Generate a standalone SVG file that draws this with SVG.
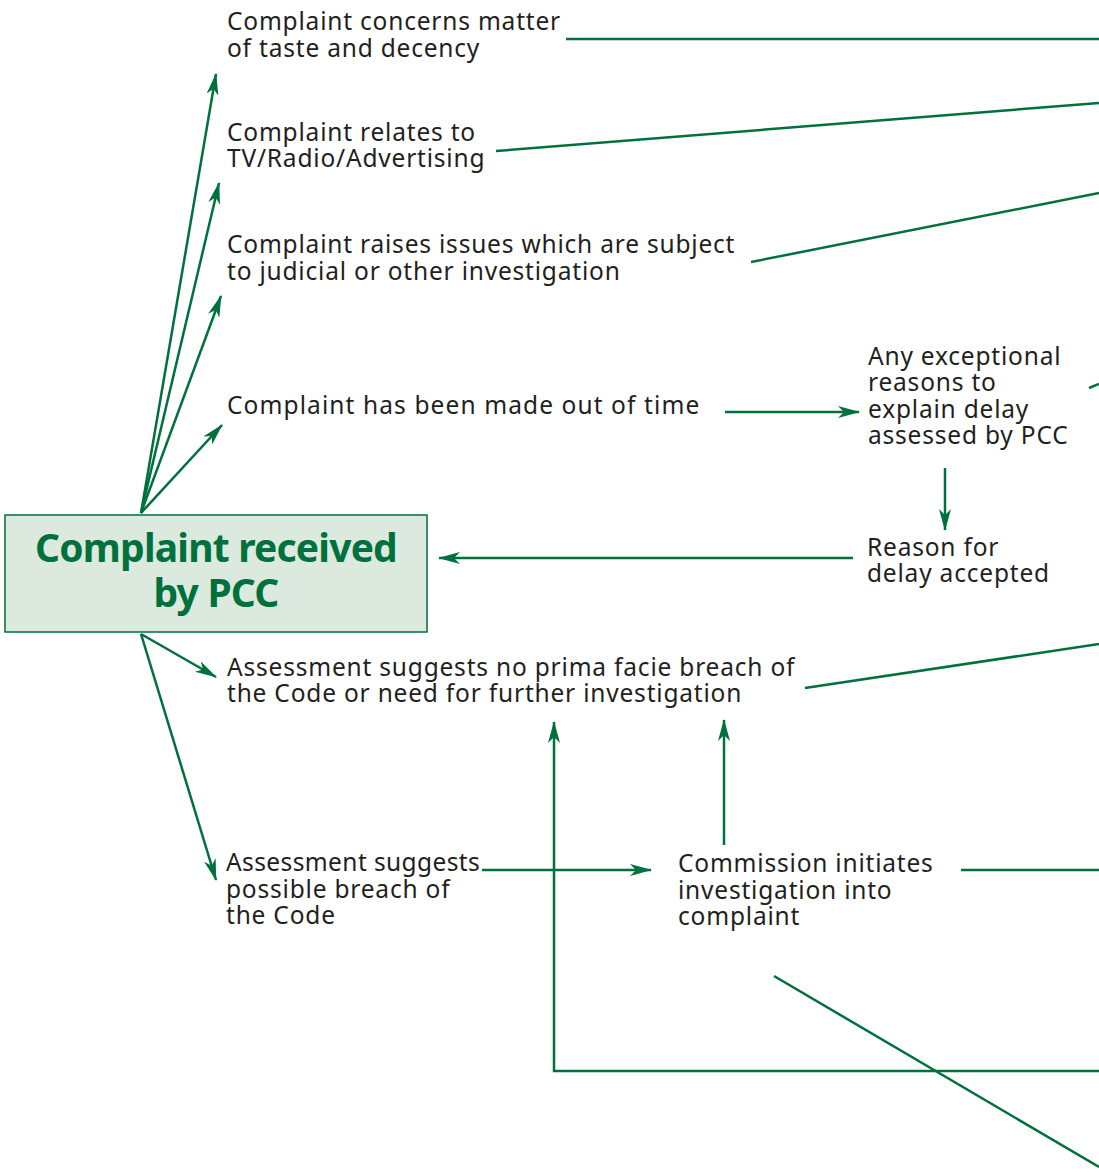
<svg xmlns="http://www.w3.org/2000/svg" width="1099" height="1173" viewBox="0 0 1099 1173">
<defs>
<style>
.t{font-family:"Noto Sans","Open Sans","DejaVu Sans",sans-serif;font-size:24.5px;letter-spacing:0.8px;fill:#231f20}
.title{font-family:"Noto Sans","Open Sans","DejaVu Sans",sans-serif;font-size:39px;letter-spacing:-0.8px;font-weight:bold;fill:#00703c;text-anchor:middle}
.c{stroke:#00703c;stroke-width:2.5;fill:none}
.a{marker-end:url(#ah)}
</style>
<marker id="ah" viewBox="0 0 22 12" refX="21" refY="6" markerWidth="22" markerHeight="12" markerUnits="userSpaceOnUse" orient="auto">
<path d="M0,0 L22,6 L0,12 L6,6 Z" fill="#00703c"/>
</marker>
</defs>
<rect width="1099" height="1173" fill="#ffffff"/>
<g id="connectors">
<line class="c a" x1="141" y1="513" x2="216" y2="74"/>
<line class="c a" x1="141" y1="513" x2="219" y2="183"/>
<line class="c a" x1="141" y1="513" x2="221" y2="296"/>
<line class="c a" x1="141" y1="513" x2="222" y2="425"/>
<line class="c a" x1="141" y1="634" x2="216" y2="677"/>
<line class="c a" x1="141" y1="634" x2="216" y2="880"/>
<line class="c" x1="566" y1="39" x2="1099" y2="39"/>
<line class="c" x1="496" y1="151" x2="1099" y2="103"/>
<line class="c" x1="751" y1="262" x2="1099" y2="193"/>
<line class="c" x1="1089" y1="388" x2="1099" y2="384"/>
<line class="c a" x1="725" y1="412" x2="859" y2="412"/>
<line class="c a" x1="945" y1="468" x2="945" y2="530"/>
<line class="c a" x1="853" y1="558" x2="439" y2="558"/>
<line class="c" x1="805" y1="688" x2="1099" y2="644"/>
<line class="c a" x1="482" y1="870" x2="651" y2="870"/>
<polyline class="c a" points="1099,1071 554,1071 554,722"/>
<line class="c a" x1="724" y1="845" x2="724" y2="720"/>
<line class="c" x1="961" y1="870" x2="1099" y2="870"/>
<line class="c" x1="774" y1="976" x2="1099" y2="1167"/>
</g>
<g id="n-received">
<rect x="5" y="515" width="422" height="117" fill="#dce9df" stroke="#00703c" stroke-width="1.5"/>
<text class="title" x="216" y="562"><tspan x="216" y="562">Complaint received</tspan><tspan x="216" y="607">by PCC</tspan></text>
</g>
<g id="n-taste">
<text class="t"><tspan x="227" y="30">Complaint concerns matter</tspan><tspan x="227" y="57">of taste and decency</tspan></text>
</g>
<g id="n-tv">
<text class="t"><tspan x="227" y="141">Complaint relates to</tspan><tspan x="227" y="167">TV/Radio/Advertising</tspan></text>
</g>
<g id="n-judicial">
<text class="t"><tspan x="227" y="253">Complaint raises issues which are subject</tspan><tspan x="227" y="280">to judicial or other investigation</tspan></text>
</g>
<g id="n-outoftime">
<text class="t" x="227" y="414" style="letter-spacing:1.1px">Complaint has been made out of time</text>
</g>
<g id="n-exceptional">
<text class="t"><tspan x="868" y="365">Any exceptional</tspan><tspan x="868" y="391">reasons to</tspan><tspan x="868" y="418">explain delay</tspan><tspan x="868" y="444">assessed by PCC</tspan></text>
</g>
<g id="n-accepted">
<text class="t"><tspan x="867" y="556">Reason for</tspan><tspan x="867" y="582">delay accepted</tspan></text>
</g>
<g id="n-noprima">
<text class="t"><tspan x="227" y="676">Assessment suggests no prima facie breach of</tspan><tspan x="227" y="702">the Code or need for further investigation</tspan></text>
</g>
<g id="n-possible">
<text class="t"><tspan x="226" y="871" style="letter-spacing:0.4px">Assessment suggests</tspan><tspan x="226" y="898">possible breach of</tspan><tspan x="226" y="924">the Code</tspan></text>
</g>
<g id="n-commission">
<text class="t"><tspan x="678" y="872">Commission initiates</tspan><tspan x="678" y="899">investigation into</tspan><tspan x="678" y="925">complaint</tspan></text>
</g>
</svg>
